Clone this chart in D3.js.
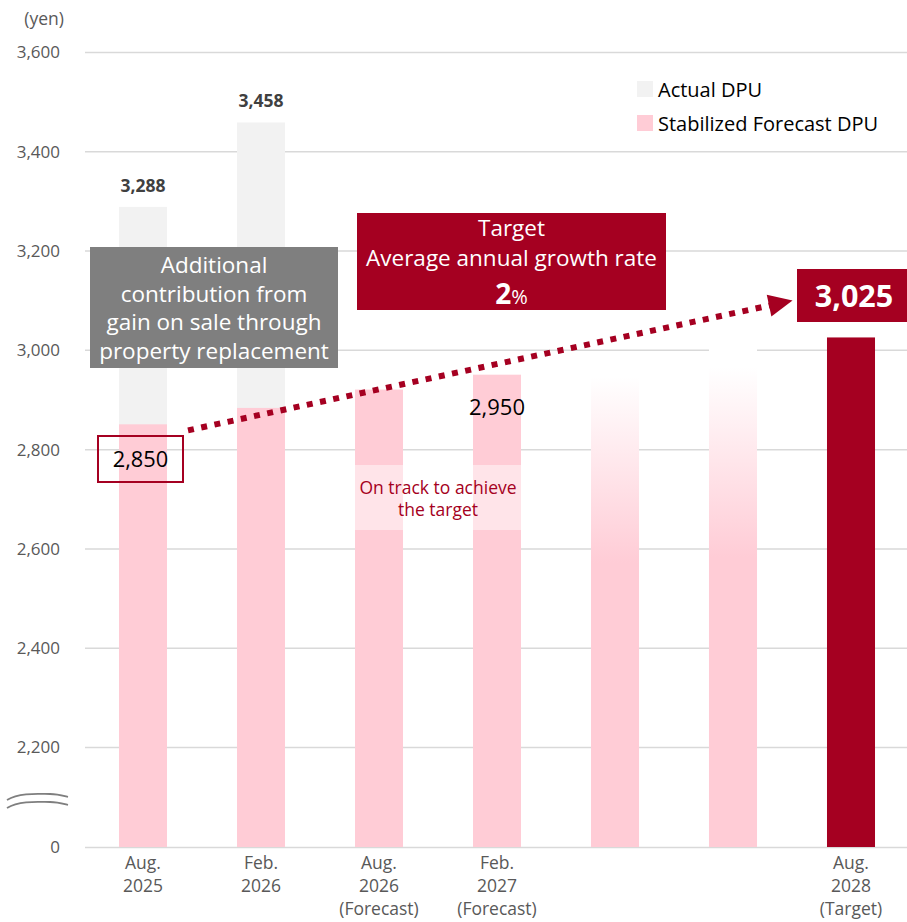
<!DOCTYPE html>
<html><head><meta charset="utf-8">
<script src="https://cdn.jsdelivr.net/npm/d3@7"></script>
<style>body{margin:0;background:#fff}svg{display:block;font-family:"Open Sans",sans-serif}</style>
</head><body><svg id="c" width="907" height="922"></svg>
<script>
const categories = ["Aug.|2025", "Feb.|2026", "Aug.|2026|(Forecast)", "Feb.|2027|(Forecast)", "", "", "Aug.|2028|(Target)"];
const actualDPU = [3288, 3458, null, null, null, null, null];
const stabilizedDPU = [2850, 2883, 2920, 2950, 2985, 3005, null];
const targetDPU = [null, null, null, null, null, null, 3025];
const yTicks = [0, 2200, 2400, 2600, 2800, 3000, 3200, 3400, 3600];

const svg = d3.select("#c");
const red = "#A50021", pink = "#FFCCD6", grey = "#F2F2F2";

const x = d3.scaleBand().domain(d3.range(categories.length)).range([84, 910]).paddingInner(0.593).paddingOuter(0.2965);
const y = d3.scaleLinear().domain([0, 2200, 3600]).range([847, 747, 52]);

const defs = svg.append("defs");
const g = defs.append("linearGradient").attr("id", "fade").attr("x1", 0).attr("x2", 0).attr("y1", 0).attr("y2", 1);
g.append("stop").attr("offset", 0).attr("stop-color", "#fff");
g.append("stop").attr("offset", 0.04).attr("stop-color", "#fff");
g.append("stop").attr("offset", 0.42).attr("stop-color", pink);
g.append("stop").attr("offset", 1).attr("stop-color", pink);

// gridlines
svg.append("g").selectAll("line").data(yTicks).join("line")
  .attr("x1", 85).attr("x2", 907).attr("y1", d => y(d) + 0.5).attr("y2", d => y(d) + 0.5)
  .attr("stroke", "#D9D9D9").attr("stroke-width", 1.5);

// y axis labels
const yAxis = d3.axisLeft(y).tickValues(yTicks).tickFormat(d3.format(",")).tickSize(0).tickPadding(0);
const ya = svg.append("g").attr("transform", "translate(60,0)").call(yAxis);
ya.select(".domain").remove();
ya.selectAll("text").attr("font-size", 17).attr("fill", "#595959").attr("font-family", "Open Sans").attr("dy", "0.35em");
svg.append("text").attr("x", 64).attr("y", 25).attr("text-anchor", "end").attr("font-size", 17.5).attr("fill", "#595959").text("(yen)");

// break symbol
svg.append("path").attr("d", "M7,800 C20,792 40,794 50,794 C58,794 64,796 68,797").attr("fill", "none").attr("stroke", "#7F7F7F").attr("stroke-width", 1.8);
svg.append("path").attr("d", "M7,808 C20,800 40,802 50,802 C58,802 64,804 68,805").attr("fill", "none").attr("stroke", "#7F7F7F").attr("stroke-width", 1.8);

// actual bars
svg.append("g").selectAll("rect").data(actualDPU.map((v, i) => ({v, i})).filter(d => d.v != null)).join("rect")
  .attr("x", d => x(d.i)).attr("width", x.bandwidth()).attr("y", d => y(d.v)).attr("height", d => y(0) - y(d.v)).attr("fill", grey);
// stabilized bars
svg.append("g").selectAll("rect").data(stabilizedDPU.map((v, i) => ({v, i})).filter(d => d.v != null)).join("rect")
  .attr("x", d => x(d.i)).attr("width", x.bandwidth()).attr("y", d => y(d.v)).attr("height", d => y(0) - y(d.v))
  .attr("fill", d => d.i >= 4 ? "url(#fade)" : pink);
// target bar
svg.append("g").selectAll("rect").data(targetDPU.map((v, i) => ({v, i})).filter(d => d.v != null)).join("rect")
  .attr("x", d => x(d.i)).attr("width", x.bandwidth()).attr("y", d => y(d.v)).attr("height", d => y(0) - y(d.v)).attr("fill", red);

// value labels for actual
svg.append("g").selectAll("text").data(actualDPU.map((v, i) => ({v, i})).filter(d => d.v != null)).join("text")
  .attr("x", d => x(d.i) + x.bandwidth() / 2).attr("y", d => y(d.v) - 15).attr("text-anchor", "middle")
  .attr("font-size", 17.5).attr("font-weight", "bold").attr("fill", "#404040").text(d => d3.format(",")(d.v));

// x labels
categories.forEach((c, i) => {
  if (!c) return;
  const t = svg.append("text").attr("text-anchor", "middle").attr("font-size", 17.5).attr("fill", "#595959");
  c.split("|").forEach((line, k) => t.append("tspan").attr("x", x(i) + x.bandwidth() / 2).attr("y", 869 + k * 23).text(line));
});

// on track band
const bx0 = x(2), bx1 = x(3) + x.bandwidth();
[2, 3].forEach(i => svg.append("rect").attr("x", x(i)).attr("width", x.bandwidth()).attr("y", 465).attr("height", 65).attr("fill", "#FFE4E9"));
const ot = svg.append("text").attr("text-anchor", "middle").attr("font-size", 17.5).attr("fill", red);
ot.append("tspan").attr("x", (bx0 + bx1) / 2).attr("y", 494).text("On track to achieve");
ot.append("tspan").attr("x", (bx0 + bx1) / 2).attr("y", 516).text("the target");

// 2,950 label
svg.append("text").attr("x", x(3) + x.bandwidth() / 2).attr("y", y(stabilizedDPU[3]) + 40).attr("text-anchor", "middle").attr("font-size", 22).attr("fill", "#000").text(d3.format(",")(stabilizedDPU[3]));

// grey annotation box
svg.append("rect").attr("x", 90).attr("y", 247).attr("width", 248).attr("height", 121).attr("fill", "#7F7F7F");
const gt = svg.append("text").attr("text-anchor", "middle").attr("font-size", 22.5).attr("fill", "#fff");
["Additional", "contribution from", "gain on sale through", "property replacement"].forEach((l, k) =>
  gt.append("tspan").attr("x", 214).attr("y", 273 + k * 28.5).text(l));

// red target box
svg.append("rect").attr("x", 357).attr("y", 213).attr("width", 309).attr("height", 97).attr("fill", red);
const rt = svg.append("text").attr("text-anchor", "middle").attr("fill", "#fff").attr("font-size", 22.5);
rt.append("tspan").attr("x", 511.5).attr("y", 236).text("Target");
rt.append("tspan").attr("x", 511.5).attr("y", 266).text("Average annual growth rate");
const rt2 = svg.append("text").attr("x", 511.5).attr("y", 304).attr("text-anchor", "middle").attr("fill", "#fff");
rt2.append("tspan").attr("font-size", 28).attr("font-weight", "bold").text("2");
rt2.append("tspan").attr("font-size", 20).text("%");

// 2,850 box
svg.append("rect").attr("x", 98).attr("y", 436).attr("width", 85).attr("height", 46).attr("fill", "none").attr("stroke", red).attr("stroke-width", 2);
svg.append("text").attr("x", 140.5).attr("y", 467).attr("text-anchor", "middle").attr("font-size", 21.8).attr("fill", "#000").text(d3.format(",")(stabilizedDPU[0]));

// 3,025 box
svg.append("rect").attr("x", 797).attr("y", 269).attr("width", 110).attr("height", 53).attr("fill", red);
svg.append("text").attr("x", 854).attr("y", 307).attr("text-anchor", "middle").attr("font-size", 30.5).attr("font-weight", "bold").attr("fill", "#fff").text(d3.format(",")(targetDPU[6]));

// dotted arrow
const ax0 = 188, ay0 = y(stabilizedDPU[0]) + 6, ax1 = 772, ay1 = 305;
svg.append("line").attr("x1", ax0).attr("y1", ay0).attr("x2", ax1).attr("y2", ay1)
  .attr("stroke", red).attr("stroke-width", 6).attr("stroke-dasharray", "6 7.5");
const ang = Math.atan2(ay1 - ay0, ax1 - ax0);
const tip = [ax1 + 21 * Math.cos(ang), ay1 + 21 * Math.sin(ang)];
const px = -Math.sin(ang), py = Math.cos(ang);
svg.append("path").attr("d", `M${tip[0]},${tip[1]} L${ax1 - 3 * Math.cos(ang) + 11 * px},${ay1 - 3 * Math.sin(ang) + 11 * py} L${ax1 - 3 * Math.cos(ang) - 11 * px},${ay1 - 3 * Math.sin(ang) - 11 * py}Z`).attr("fill", red);

// legend
const leg = [["Actual DPU", grey], ["Stabilized Forecast DPU", pink]];
leg.forEach((l, k) => {
  svg.append("rect").attr("x", 637).attr("y", 81 + k * 34).attr("width", 16).attr("height", 16).attr("fill", l[1]);
  svg.append("text").attr("x", 658).attr("y", 97 + k * 34).attr("font-size", 20).attr("fill", "#000").text(l[0]);
});
</script></body></html>
